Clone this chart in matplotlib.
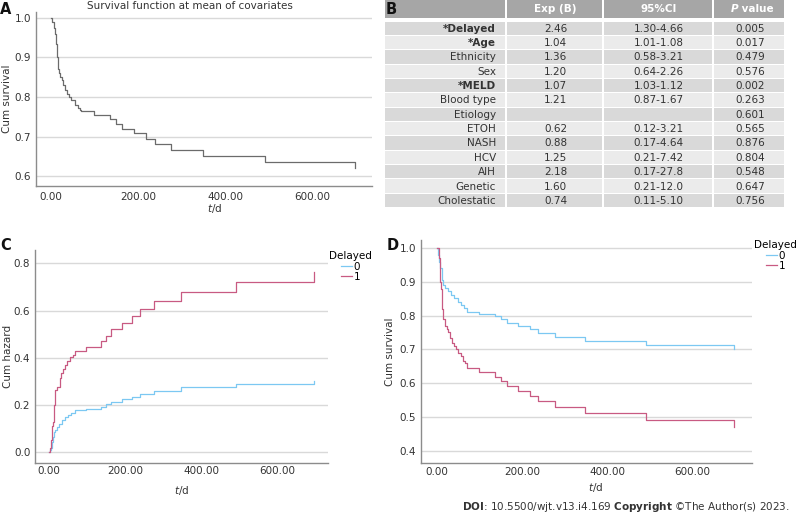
import matplotlib
matplotlib.use("Agg")
import matplotlib.pyplot as plt
from matplotlib.patches import Rectangle

plt.rcParams['font.family'] = ['DejaVu Sans']

# ── Panel A: survival at mean of covariates ──
a_time = [0, 3, 6, 9, 11, 13, 15, 17, 19, 21, 25, 28, 32, 36, 42, 47, 55, 62, 66, 69,
          98, 136, 149, 163, 191, 218, 238, 276, 348, 492, 699]
a_surv = [1.0, 0.99, 0.975, 0.96, 0.935, 0.92, 0.90, 0.87, 0.86, 0.85, 0.843, 0.83, 0.818,
          0.807, 0.80, 0.793, 0.78, 0.771, 0.768, 0.764, 0.754, 0.744, 0.733, 0.72, 0.708,
          0.693, 0.681, 0.666, 0.651, 0.635, 0.62]

# ── Panel B: Cox regression table ──
row_labels = ["*Delayed", "*Age", "Ethnicity", "Sex", "*MELD", "Blood type", "Etiology",
              "ETOH", "NASH", "HCV", "AIH", "Genetic", "Cholestatic"]
exp_b = ["2.46", "1.04", "1.36", "1.20", "1.07", "1.21", "", "0.62", "0.88", "1.25",
         "2.18", "1.60", "0.74"]
ci95 = ["1.30-4.66", "1.01-1.08", "0.58-3.21", "0.64-2.26", "1.03-1.12", "0.87-1.67", "",
        "0.12-3.21", "0.17-4.64", "0.21-7.42", "0.17-27.8", "0.21-12.0", "0.11-5.10"]
p_val = ["0.005", "0.017", "0.479", "0.576", "0.002", "0.263", "0.601", "0.565", "0.876",
         "0.804", "0.548", "0.647", "0.756"]

# ── Panel C: cumulative hazard by Delayed ──
c0_time = [0, 2, 4, 6, 8, 10, 13, 15, 19, 26, 33, 41, 50, 58, 67, 98, 136, 149, 163, 191,
           218, 238, 276, 348, 492, 699]
c0_haz = [0.0, 0.01, 0.02, 0.035, 0.045, 0.066, 0.085, 0.095, 0.108, 0.12, 0.137, 0.15,
          0.158, 0.168, 0.179, 0.183, 0.193, 0.203, 0.212, 0.224, 0.236, 0.245, 0.261,
          0.275, 0.29, 0.30]
c1_time = [0, 2, 4, 6, 8, 11, 13, 14, 16, 21, 27, 32, 36, 41, 47, 54, 63, 67, 98, 136,
           149, 163, 191, 218, 238, 276, 348, 492, 699]
c1_haz = [0.0, 0.02, 0.05, 0.08, 0.11, 0.13, 0.20, 0.25, 0.264, 0.278, 0.313, 0.334, 0.351,
          0.37, 0.388, 0.402, 0.412, 0.429, 0.447, 0.471, 0.494, 0.521, 0.549, 0.577,
          0.608, 0.642, 0.677, 0.72, 0.765]

# ── Panel D: survival by Delayed ──
d0_time = [0, 2, 4, 6, 10, 12, 14, 18, 26, 32, 40, 49, 57, 64, 69, 98, 136, 149, 163, 191,
           218, 238, 276, 348, 492, 699]
d0_surv = [1.0, 0.98, 0.96, 0.94, 0.92, 0.905, 0.89, 0.882, 0.872, 0.862, 0.852, 0.842,
           0.832, 0.822, 0.811, 0.804, 0.798, 0.789, 0.779, 0.769, 0.760, 0.748, 0.738,
           0.726, 0.713, 0.70]
d1_time = [0, 3, 6, 7, 9, 11, 12, 14, 18, 22, 26, 30, 34, 40, 45, 49, 57, 61, 65, 69,
           98, 136, 149, 163, 191, 218, 238, 276, 348, 492, 699]
d1_surv = [1.0, 0.97, 0.94, 0.90, 0.88, 0.85, 0.82, 0.79, 0.77, 0.762, 0.752, 0.733, 0.72,
           0.71, 0.70, 0.69, 0.68, 0.667, 0.66, 0.646, 0.633, 0.62, 0.607, 0.592, 0.577,
           0.563, 0.547, 0.529, 0.513, 0.49, 0.47]

x_ticks = [0, 200, 400, 600]

BLUE = "#7cc8f2"
RED = "#c85a82"
TXT = "#333333"
FS = 7.5

W, H = 799, 516
fig = plt.figure(figsize=(W / 100, H / 100), dpi=100)


def px_axes(left, top, right, bottom):
    return fig.add_axes([left / W, 1 - bottom / H, (right - left) / W, (bottom - top) / H])


def style(ax, xlim, ylim, yticks, ylabel, xpad, ylab_x, xlab_x, xlab_y):
    ax.set_xlim(xlim)
    ax.set_ylim(ylim)
    ax.set_xticks(x_ticks)
    ax.set_xticklabels([f"{v:.2f}" for v in x_ticks])
    ax.set_yticks(yticks)
    ax.set_yticklabels([f"{v:.1f}" for v in yticks])
    ax.grid(axis="y", color="#d9d9d9", lw=1)
    ax.set_axisbelow(True)
    for s in ["top", "right"]:
        ax.spines[s].set_visible(False)
    for s in ["left", "bottom"]:
        ax.spines[s].set_color("#8c8c8c")
        ax.spines[s].set_linewidth(1)
    ax.tick_params(axis="both", length=0, labelsize=FS, labelcolor=TXT)
    ax.tick_params(axis="x", pad=xpad)
    ax.tick_params(axis="y", pad=3.4)
    ax.set_ylabel(ylabel, fontsize=FS, color=TXT)
    ax.yaxis.set_label_coords(ylab_x, 0.5)
    ax.set_xlabel("$t$/d", fontsize=FS, color=TXT)
    ax.xaxis.set_label_coords(xlab_x, xlab_y)


# A
axA = px_axes(35.7, 12, 372, 186)
axA.step(a_time, a_surv, where="post", color="#6b6b6b", lw=0.9)
style(axA, (-35, 737), (0.575, 1.015), [0.6, 0.7, 0.8, 0.9, 1.0], "Cum survival",
      4.5, -0.07, 0.533, -0.09)
fig.text(189.5 / W, 1 - 6 / H, "Survival function at mean of covariates", fontsize=FS,
         color=TXT, ha="center", va="center")

# C
axC = px_axes(35, 250, 328, 462.7)
lc0, = axC.step(c0_time, c0_haz, where="post", color=BLUE, lw=0.9, label="0")
lc1, = axC.step(c1_time, c1_haz, where="post", color=RED, lw=0.9, label="1")
style(axC, (-37.7, 735), (-0.044, 0.856), [0.0, 0.2, 0.4, 0.6, 0.8], "Cum hazard",
      2.5, -0.075, 0.502, -0.1)
axC.legend(handles=[lc0, lc1], title="Delayed", loc="upper left",
           bbox_to_anchor=(1.005, 0.995), frameon=False, fontsize=FS, title_fontsize=FS,
           handlelength=1.0, handletextpad=0.2, labelspacing=0.05, borderpad=0,
           borderaxespad=0)

# D
axD = px_axes(420.7, 240, 751.7, 462.7)
ld0, = axD.step(d0_time, d0_surv, where="post", color=BLUE, lw=0.9, label="0")
ld1, = axD.step(d1_time, d1_surv, where="post", color=RED, lw=0.9, label="1")
style(axD, (-39, 740), (0.365, 1.024), [0.4, 0.5, 0.6, 0.7, 0.8, 0.9, 1.0], "Cum survival",
      3.0, -0.078, 0.53, -0.08)
axD.legend(handles=[ld0, ld1], title="Delayed", loc="upper left",
           bbox_to_anchor=(1.008, 1.0), frameon=False, fontsize=FS, title_fontsize=FS,
           handlelength=1.0, handletextpad=0.2, labelspacing=0.05, borderpad=0,
           borderaxespad=0)

# B table
axB = px_axes(385, 0, 786, 209)
axB.set_xlim(385, 786)
axB.set_ylim(209, 0)
axB.axis("off")
col_edges = [385, 507, 604, 714, 786]
for j in range(4):
    axB.add_patch(Rectangle((col_edges[j], 0), col_edges[j + 1] - col_edges[j] - 2, 18,
                            color="#a6a6a6", lw=0))
row_h = 14.35
row_top = 21.5
for i, lab in enumerate(row_labels):
    y0 = row_top + i * row_h
    bg = "#d9d9d9" if i % 2 == 0 else "#ebebeb"
    for j in range(4):
        axB.add_patch(Rectangle((col_edges[j], y0), col_edges[j + 1] - col_edges[j] - 2,
                                row_h - 1, color=bg, lw=0))
    yc = y0 + row_h / 2
    bold = lab.startswith("*")
    axB.text(496, yc, lab, ha="right", va="center", fontsize=FS, color=TXT,
             fontweight="bold" if bold else "normal")
    axB.text(555.5, yc, exp_b[i], ha="center", va="center", fontsize=FS, color=TXT)
    axB.text(658.5, yc, ci95[i], ha="center", va="center", fontsize=FS, color=TXT)
    axB.text(750, yc, p_val[i], ha="center", va="center", fontsize=FS, color=TXT)
axB.text(555.5, 9, "Exp (B)", ha="center", va="center", fontsize=FS, color="white",
         fontweight="bold")
axB.text(658.5, 9, "95%CI", ha="center", va="center", fontsize=FS, color="white",
         fontweight="bold")
axB.text(738, 9, "P", ha="right", va="center", fontsize=FS, color="white",
         fontweight="bold", fontstyle="italic")
axB.text(738, 9, " value", ha="left", va="center", fontsize=FS, color="white",
         fontweight="bold")

# panel letters
for lx, ly, letter in [(0, 10, "A"), (386, 10, "B"), (0, 245, "C"), (387, 246, "D")]:
    fig.text(lx / W, 1 - ly / H, letter, fontsize=10.5, fontweight="bold", color="#111111",
             ha="left", va="center")

fig.text(790 / W, 1 - 507 / H,
         r"$\mathbf{DOI}$: 10.5500/wjt.v13.i4.169 $\mathbf{Copyright}$ ©The Author(s) 2023.",
         fontsize=FS, color=TXT, ha="right", va="center")

fig.savefig("out.png", dpi=100)
